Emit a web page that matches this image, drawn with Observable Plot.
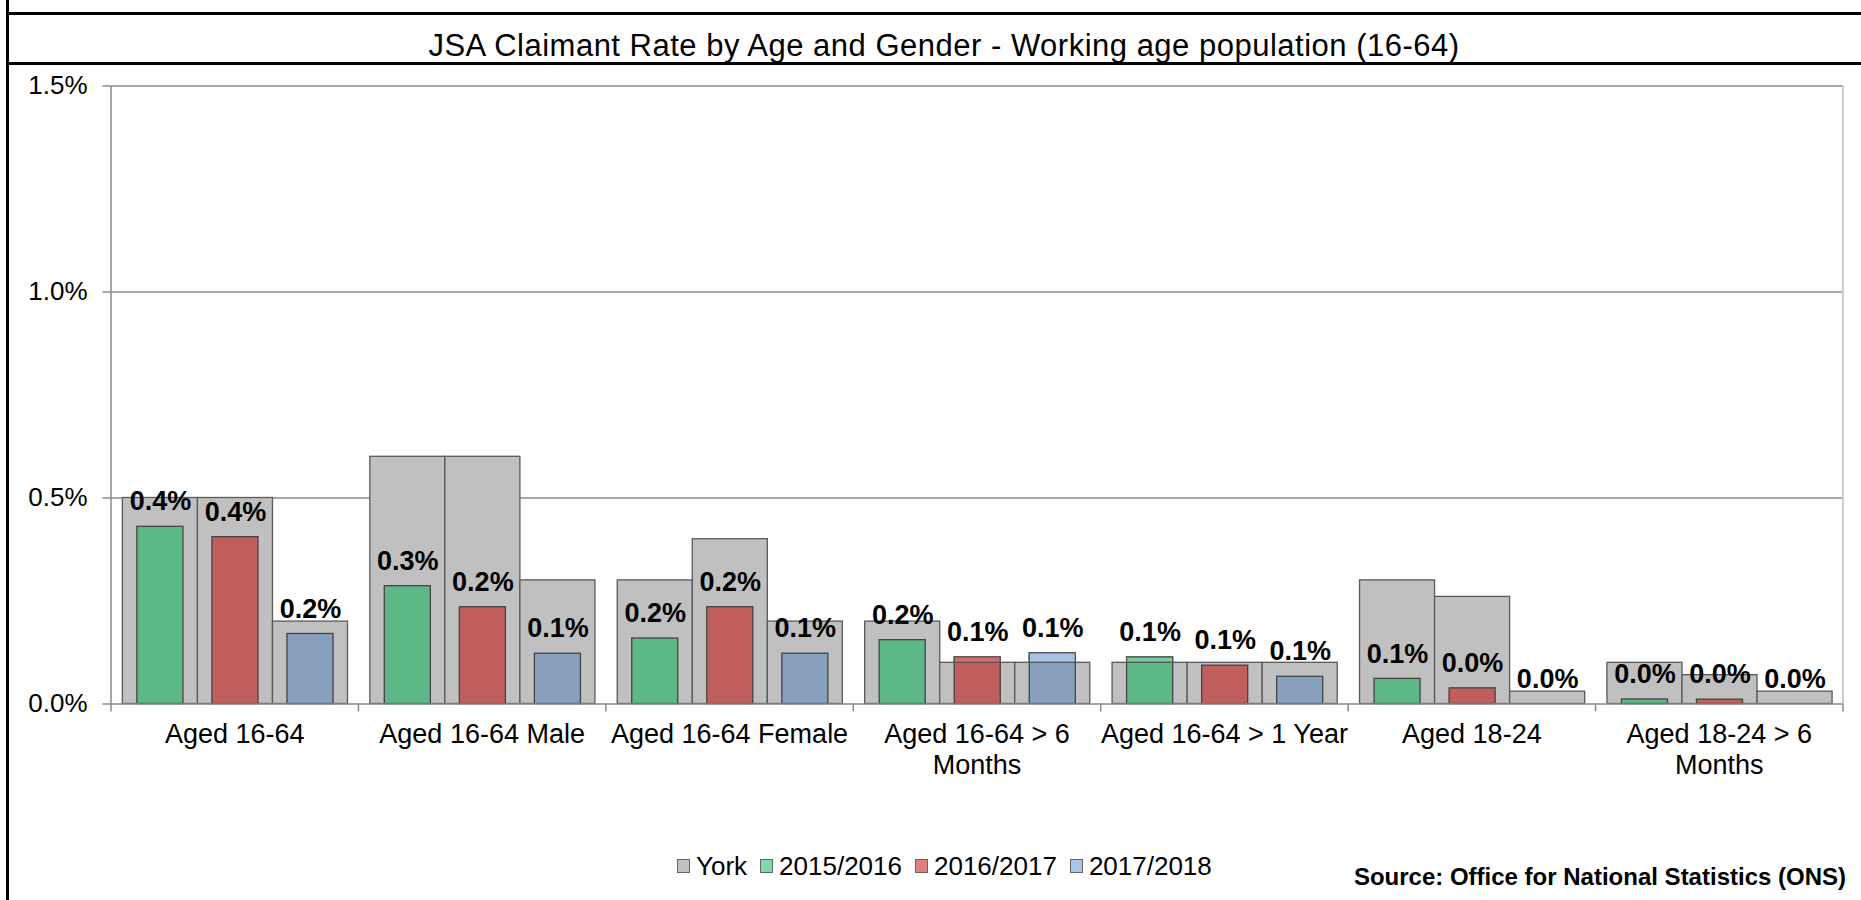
<!DOCTYPE html>
<html>
<head>
<meta charset="utf-8">
<script src="https://cdn.jsdelivr.net/npm/d3@7"></script>
<script src="https://cdn.jsdelivr.net/npm/@observablehq/plot@0.6"></script>
<style>
  html, body { margin: 0; padding: 0; background: #fff; }
  #wrap { position: relative; width: 1861px; height: 900px; overflow: hidden; background: #fff;
          font-family: "Liberation Sans", Arial, "DejaVu Sans", sans-serif; color: #000; }
  .line { position: absolute; background: #000; }
  #title { position: absolute; left: 0; width: 1888px; top: 31px; text-align: center;
           font-size: 31px; line-height: 29px; white-space: nowrap; letter-spacing: 0.5px; }
  #chart { position: absolute; left: 0; top: 66px; }
  #legend { position: absolute; left: 677px; top: 853px; display: flex; align-items: center;
            font-size: 26px; line-height: 26px; white-space: nowrap; }
  #legend .item { display: flex; align-items: center; margin-right: 13px; }
  #legend .sw { width: 11px; height: 12px; border: 1.5px solid #666; margin-right: 6px; box-sizing: content-box; }
  #source { position: absolute; right: 15px; top: 865px; font-size: 24px; line-height: 24px;
            font-weight: bold; white-space: nowrap; }
</style>
</head>
<body>
<div id="wrap">
  <div class="line" style="left:6px;top:0;width:3px;height:900px"></div>
  <div class="line" style="left:6px;top:12px;width:1855px;height:3px"></div>
  <div class="line" style="left:6px;top:62px;width:1855px;height:3px"></div>
  <div id="title">JSA Claimant Rate by Age and Gender - Working age population (16-64)</div>
  <div id="chart"></div>
  <div id="legend"></div>
  <div id="source">Source: Office for National Statistics (ONS)</div>
</div>
<script>
// ---- data (percent) ----
const categories = ["Aged 16-64", "Aged 16-64 Male", "Aged 16-64 Female", "Aged 16-64 > 6 Months",
                    "Aged 16-64 > 1 Year", "Aged 18-24", "Aged 18-24 > 6 Months"];
const years = ["2015/2016", "2016/2017", "2017/2018"];
const york2015 = [0.5, 0.6, 0.3, 0.2, 0.1, 0.3, 0.1];
const york2016 = [0.5, 0.6, 0.4, 0.1, 0.1, 0.26, 0.07];
const york2017 = [0.2, 0.3, 0.2, 0.1, 0.1, 0.03, 0.03];
const rate2015 = [0.43, 0.286, 0.159, 0.155, 0.113, 0.061, 0.011];
const rate2016 = [0.405, 0.235, 0.235, 0.113, 0.093, 0.038, 0.0105];
const rate2017 = [0.17, 0.122, 0.122, 0.123, 0.066, 0, 0];
const yTicks = [0, 0.5, 1.0, 1.5];

// ---- styles ----
const yorkColor = "#c0c0c0";
const barColors = ["#5db887", "#c05e5e", "#889fbe"];     // seen through York
const clearColors = ["#72cd9b", "#d86c6c", "#a8c3e7"];   // above York
const swatchColors = ["#7fd8a8", "#e08080", "#a9c5ea"];
const gridColor = "#8a8a8a";
const PAD = 0.048, W = 0.3033, INSET = 14.5;

const yorkByYear = [york2015, york2016, york2017];
const rateByYear = [rate2015, rate2016, rate2017];
const rows = [];
categories.forEach((c, ci) => years.forEach((yr, yi) => {
  rows.push({category: c, ci, year: yr, yi, york: yorkByYear[yi][ci], rate: rateByYear[yi][ci]});
}));
const x1 = d => d.ci + PAD + d.yi * W;
const x2 = d => d.ci + PAD + (d.yi + 1) * W;
const xc = d => d.ci + PAD + (d.yi + 0.5) * W;
const wrapLabel = s => s.replace(" Months", "\nMonths");

const marks = [
  Plot.ruleY(yTicks.slice(1), {x1: 0, x2: categories.length, stroke: gridColor, strokeWidth: 1.5}),
  Plot.rectY(rows, {x1, x2, y1: 0, y2: "york", fill: yorkColor, stroke: "#5a5a5a", strokeWidth: 1.3})
];
years.forEach((yr, yi) => {
  marks.push(Plot.rectY(rows.filter(d => d.yi === yi && d.rate > 0), {
    x1, x2, y1: 0, y2: "rate", insetLeft: INSET, insetRight: INSET,
    fill: barColors[yi], stroke: "#444", strokeWidth: 1.3
  }));
  marks.push(Plot.rectY(rows.filter(d => d.yi === yi && d.rate > d.york), {
    x1, x2, y1: "york", y2: "rate", insetLeft: INSET, insetRight: INSET,
    fill: clearColors[yi], stroke: "#555", strokeWidth: 1.3
  }));
});
marks.push(
  Plot.text(rows, {x: xc, y: "rate", dy: -25, text: d => d.rate.toFixed(1) + "%",
                   fontSize: 27, fontWeight: "bold", fill: "#000"}),
  Plot.ruleX([0], {y1: 0, y2: 1.5, stroke: gridColor, strokeWidth: 1.5}),
  Plot.ruleX([categories.length], {y1: 0, y2: 1.5, stroke: "#bdbdbd", strokeWidth: 1.5}),
  Plot.ruleY([0], {x1: 0, x2: categories.length, stroke: gridColor, strokeWidth: 1.5}),
  Plot.axisY({ticks: yTicks, tickSize: 8, tickPadding: 15.5, tickFormat: d => d.toFixed(1) + "%",
              stroke: gridColor, strokeWidth: 1.5, fill: "#000", fontSize: 26, label: null}),
  Plot.axisX({ticks: d3.range(categories.length + 1), tickSize: 8, tickFormat: () => "",
              stroke: gridColor, strokeWidth: 1.5, fill: "none", label: null}),
  Plot.axisX({ticks: d3.range(categories.length).map(i => i + 0.5), tickSize: 0, tickPadding: 17,
              tickFormat: v => wrapLabel(categories[Math.floor(v)]), fill: "#000",
              fontSize: 27, lineHeight: 1.15, label: null})
);

const chart = Plot.plot({
  width: 1861,
  height: 770,
  marginTop: 19.5,
  marginBottom: 132.5,
  marginLeft: 110.5,
  marginRight: 18.5,
  style: {fontFamily: '"Liberation Sans", Arial, sans-serif', fontSize: "25px", background: "transparent", overflow: "visible"},
  x: {domain: [0, categories.length]},
  y: {domain: [0, 1.5]},
  marks
});
document.getElementById("chart").appendChild(chart);

// legend
const legend = document.getElementById("legend");
[["York", yorkColor], ...years.map((y, i) => [y, swatchColors[i]])].forEach(([name, col]) => {
  const item = document.createElement("div");
  item.className = "item";
  const sw = document.createElement("span");
  sw.className = "sw";
  sw.style.background = col;
  const t = document.createElement("span");
  t.textContent = name;
  item.appendChild(sw); item.appendChild(t);
  legend.appendChild(item);
});
</script>
</body>
</html>
